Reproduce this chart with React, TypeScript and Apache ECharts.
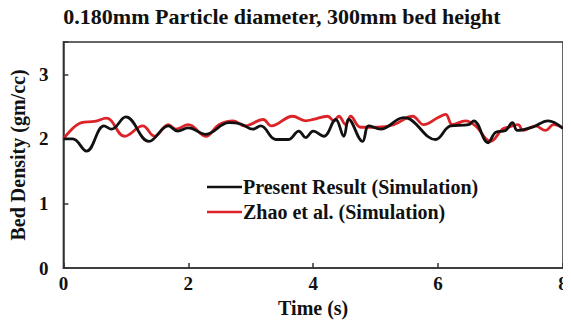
import React, { useEffect, useRef } from "react";
import * as echarts from "echarts";

const titleText = "0.180mm Particle diameter, 300mm bed height";
const seriesNames = ["Present Result (Simulation)", "Zhao et al. (Simulation)"];

const presentT = [0, 0.15, 0.37, 0.65, 0.77, 1.0, 1.37, 1.68, 1.83, 2.0, 2.28, 2.65, 2.84, 3.03, 3.16, 3.4, 3.6, 3.77, 3.88, 4.0, 4.17, 4.36, 4.49, 4.57, 4.79, 4.89, 5.08, 5.45, 5.56, 5.96, 6.2, 6.49, 6.57, 6.8, 6.92, 7.08, 7.19, 7.27, 7.51, 7.76, 8.0];
const presentV = [2.0, 2.0, 1.81, 2.2, 2.15, 2.34, 1.96, 2.2, 2.12, 2.17, 2.07, 2.25, 2.23, 2.15, 2.2, 1.99, 1.99, 2.12, 2.02, 2.12, 2.04, 2.3, 2.04, 2.3, 1.96, 2.2, 2.15, 2.33, 2.3, 1.99, 2.2, 2.22, 2.28, 1.94, 2.1, 2.13, 2.25, 2.13, 2.18, 2.28, 2.16];

const zhaoT = [0, 0.29, 0.5, 0.69, 0.98, 1.27, 1.46, 1.68, 1.8, 2.0, 2.28, 2.49, 2.72, 2.9, 3.2, 3.33, 3.67, 3.88, 4.0, 4.23, 4.33, 4.41, 4.52, 4.6, 4.76, 5.03, 5.29, 5.59, 5.77, 6.0, 6.12, 6.23, 6.44, 6.6, 6.84, 7.03, 7.12, 7.28, 7.36, 7.56, 7.72, 7.85, 8.0];
const zhaoV = [2.0, 2.25, 2.27, 2.32, 2.04, 2.2, 2.04, 2.22, 2.15, 2.22, 2.04, 2.22, 2.28, 2.2, 2.3, 2.2, 2.35, 2.28, 2.3, 2.35, 2.28, 2.35, 2.22, 2.35, 2.18, 2.18, 2.22, 2.35, 2.22, 2.33, 2.38, 2.22, 2.28, 2.2, 1.96, 2.15, 2.18, 2.22, 2.13, 2.2, 2.13, 2.22, 2.17];

const xTicks = [0, 2, 4, 6, 8];
const yTicks = [0, 1, 2, 3];

const FONT = "'Liberation Serif', 'Times New Roman', serif";

export default function App() {
  const ref = useRef<HTMLDivElement>(null);
  useEffect(() => {
    if (!ref.current) return;
    const chart = echarts.init(ref.current, undefined, { renderer: "svg" });
    const tick = { fontFamily: FONT, fontWeight: "bold" as const, fontSize: 19, color: "#111" };
    const nameStyle = { fontFamily: FONT, fontWeight: "bold" as const, fontSize: 20, color: "#111" };
    chart.setOption({
      animation: false,
      backgroundColor: "#fff",
      title: {
        text: titleText,
        left: 277,
        textAlign: "center",
        top: 0,
        textStyle: { fontFamily: FONT, fontWeight: "bold", fontSize: 22, color: "#111" },
      },
      grid: {
        left: 62, right: 8, top: 42, bottom: 60,
        show: true, borderColor: "#333", borderWidth: 1.5, backgroundColor: "transparent",
      },
      legend: {
        orient: "vertical",
        left: 202,
        top: 172,
        itemGap: 5,
        itemWidth: 35,
        itemHeight: 2.5,
        icon: "rect",
        textStyle: { fontFamily: FONT, fontWeight: "bold", fontSize: 20, color: "#111", padding: [0, 0, 0, -4] },
        data: seriesNames,
      },
      xAxis: {
        type: "value",
        min: 0, max: 8, interval: 2,
        name: "Time (s)",
        nameLocation: "middle",
        nameGap: 23,
        nameTextStyle: { ...nameStyle },
        axisLine: { show: true, lineStyle: { color: "#333", width: 1.5 } },
        axisTick: { show: true, inside: true, length: 5, lineStyle: { color: "#333", width: 1.5 } },
        axisLabel: { ...tick, margin: 6, formatter: (v: number) => (xTicks.includes(v) ? String(v) : "") },
        splitLine: { show: false },
      },
      yAxis: {
        type: "value",
        min: 0, max: 3.5, interval: 1,
        name: "Bed Density (gm/cc)",
        nameLocation: "middle",
        nameGap: 32,
        nameTextStyle: { ...nameStyle },
        axisLine: { show: true, lineStyle: { color: "#333", width: 1.5 } },
        axisTick: { show: true, inside: true, length: 5, lineStyle: { color: "#333", width: 1.5 } },
        axisLabel: { ...tick, margin: 15, formatter: (v: number) => (yTicks.includes(v) ? String(v) : "") },
        splitLine: { show: false },
      },
      series: [
        {
          name: seriesNames[0],
          type: "line",
          smooth: 0.4,
          showSymbol: false,
          symbol: "none",
          z: 3,
          itemStyle: { color: "#111" },
          lineStyle: { color: "#111", width: 2.8 },
          data: presentT.map((t, i) => [t, presentV[i]]),
        },
        {
          name: seriesNames[1],
          type: "line",
          smooth: 0.4,
          showSymbol: false,
          symbol: "none",
          z: 2,
          itemStyle: { color: "#dc2328" },
          lineStyle: { color: "#dc2328", width: 2.8 },
          data: zhaoT.map((t, i) => [t, zhaoV[i]]),
        },
      ],
    });
    return () => chart.dispose();
  }, []);
  return <div ref={ref} style={{ width: 571, height: 328, margin: -8 }} />;
}
